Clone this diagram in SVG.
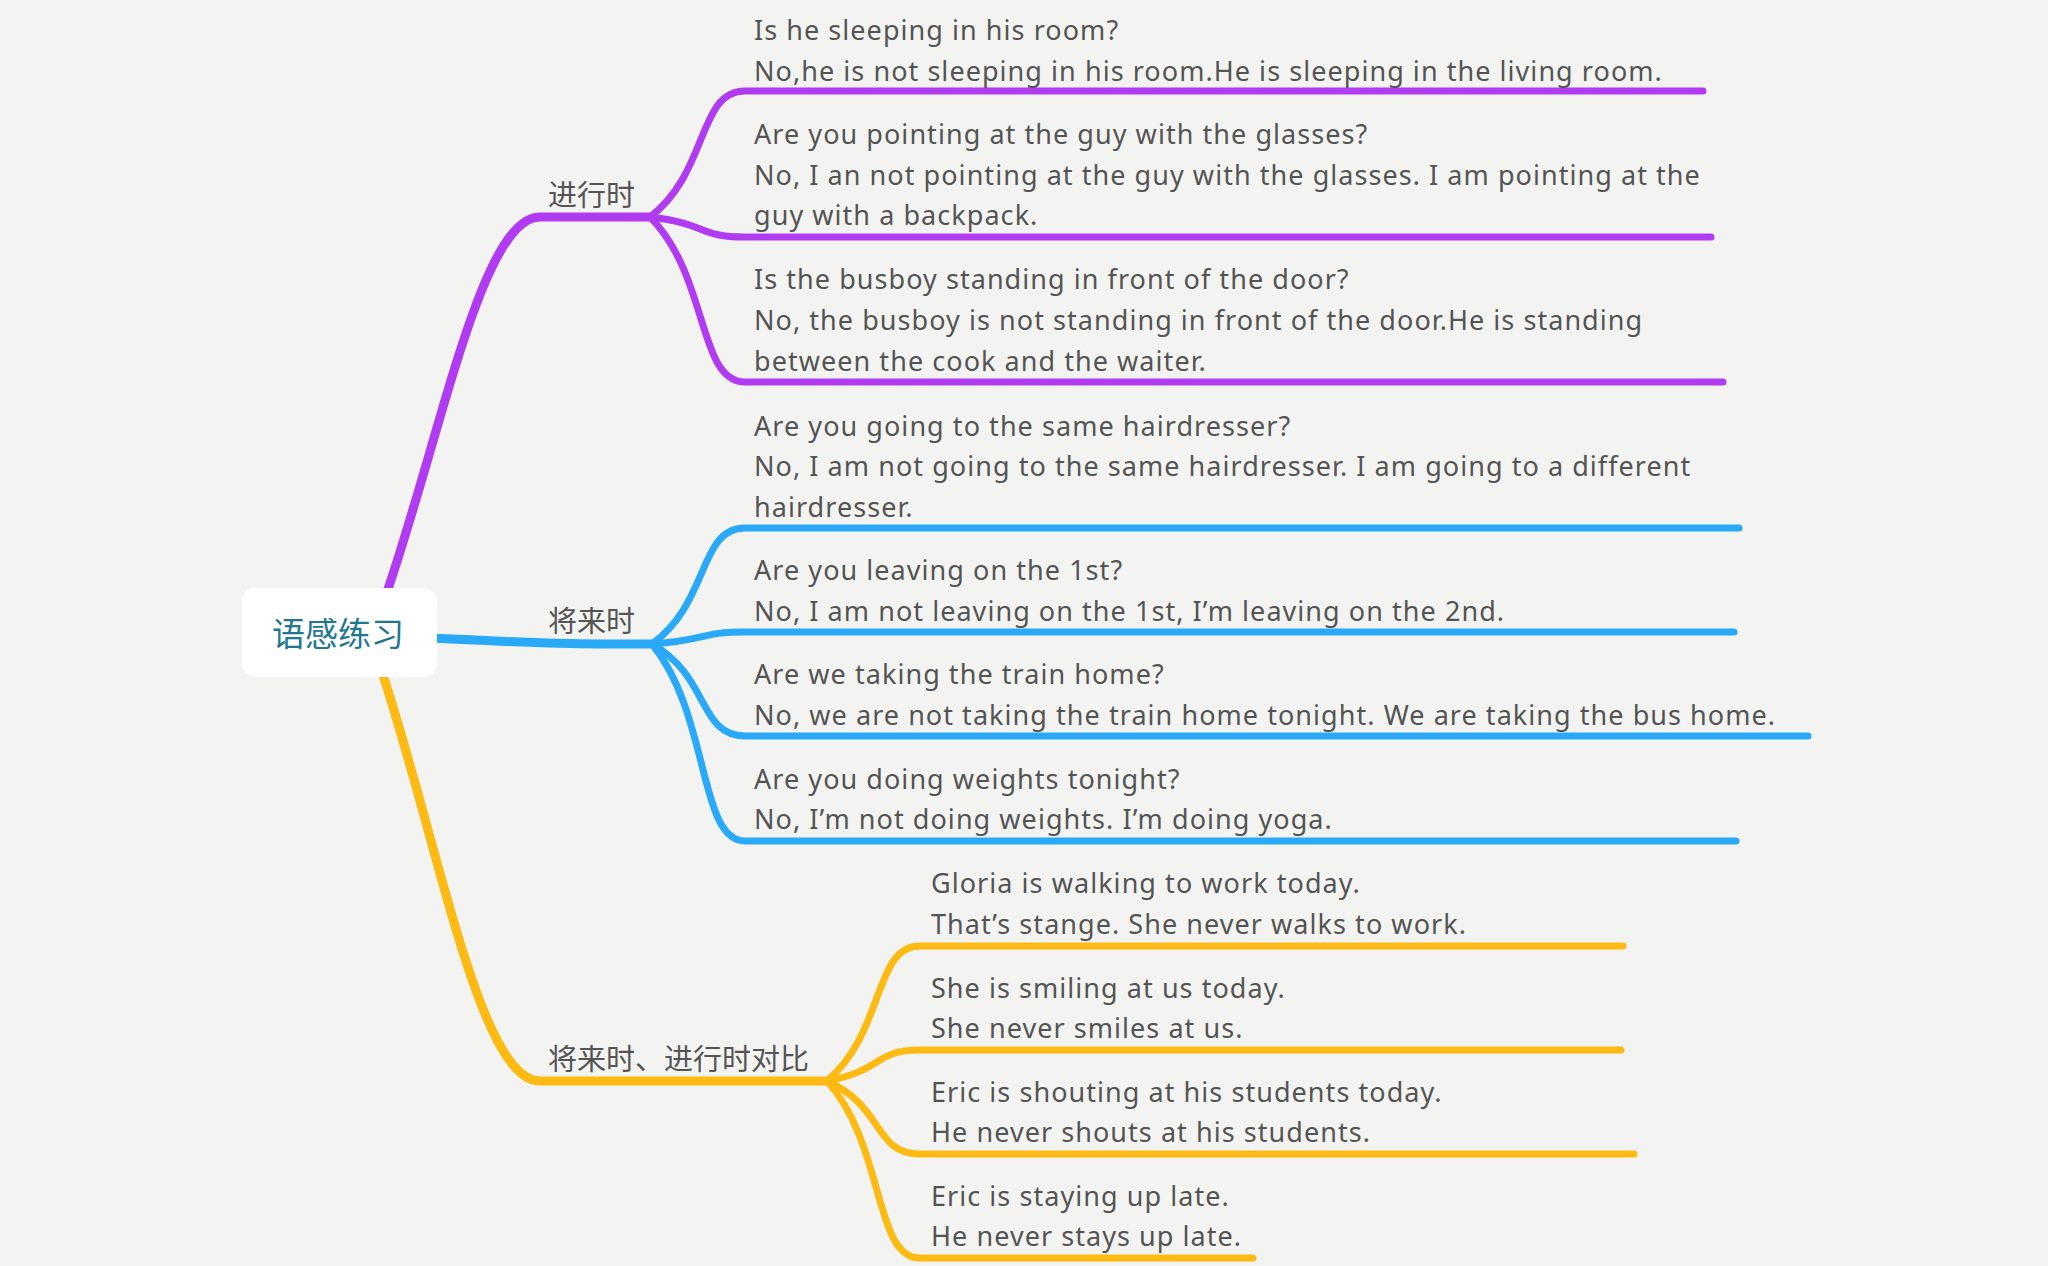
<svg xmlns="http://www.w3.org/2000/svg" width="2048" height="1266" viewBox="0 0 2048 1266">
<style>
.bg{fill:#F3F4F2}
.main{fill:none;stroke-width:9;stroke-linecap:round;stroke-linejoin:round}
.sub{fill:none;stroke-width:7;stroke-linecap:round;stroke-linejoin:round}
.pu{stroke:#B13BF0}
.bl{stroke:#2AA9F9}
.ye{stroke:#FDBA12}
.t{font-family:"Noto Sans","Liberation Sans",sans-serif;font-size:27px;letter-spacing:1.05px;fill:#545454}
.lab{font-family:"Noto Sans CJK SC","Noto Sans",sans-serif;font-size:29px;fill:#555555}
.root{font-family:"Noto Sans CJK SC","Noto Sans",sans-serif;font-size:33px;fill:#21778F}
</style>
<rect class="bg" x="0" y="0" width="2048" height="1266"/>
<g id="connectors">
  <path class="main pu" d="M387,592 C442,431 482,217 540,217 L650,217"/>
  <path class="main bl" d="M430,638 C500,641 540,644 600,644 L652,644"/>
  <path class="main ye" d="M383,675 C440,850 480,1081 540,1081 L827,1081"/>
  <path class="sub pu" d="M650,217 C709,172 697.5,91 745,91 L1703,91"/>
  <path class="sub pu" d="M650,217 C709,224 697.5,237 745,237 L1711,237"/>
  <path class="sub pu" d="M650,217 C709,276 697.5,382 745,382 L1723,382"/>
  <path class="sub bl" d="M652,644 C710,602 698.5,528 745,528 L1739,528"/>
  <path class="sub bl" d="M652,644 C710,640 698.5,632 745,632 L1734,632"/>
  <path class="sub bl" d="M652,644 C710,677 698.5,736 745,736 L1808,736"/>
  <path class="sub bl" d="M652,644 C710,715 698.5,841 745,841 L1736,841"/>
  <path class="sub ye" d="M827,1081 C885,1032 873.5,946 920,946 L1623,946"/>
  <path class="sub ye" d="M827,1081 C885,1070 873.5,1050 920,1050 L1621,1050"/>
  <path class="sub ye" d="M827,1081 C885,1107 873.5,1154 920,1154 L1634,1154"/>
  <path class="sub ye" d="M827,1081 C885,1145 873.5,1258 920,1258 L1253,1258"/>
</g>
<g id="root">
  <rect x="242" y="588" width="195" height="89" rx="14" ry="14" fill="#FFFFFF"/>
  <text class="root" x="338" y="646" text-anchor="middle">语感练习</text>
</g>
<g id="branch-progressive">
  <text class="lab" x="548" y="206">进行时</text>
</g>
<g id="branch-future">
  <text class="lab" x="548" y="632">将来时</text>
</g>
<g id="branch-compare">
  <text class="lab" x="548" y="1070">将来时、进行时对比</text>
</g>
<g id="p1"><text class="t" x="754" y="40">Is he sleeping in his room?</text><text class="t" x="754" y="80.5">No,he is not sleeping in his room.He is sleeping in the living room.</text></g>
<g id="p2"><text class="t" x="754" y="144">Are you pointing at the guy with the glasses?</text><text class="t" x="754" y="184.5">No, I an not pointing at the guy with the glasses. I am pointing at the</text><text class="t" x="754" y="225">guy with a backpack.</text></g>
<g id="p3"><text class="t" x="754" y="289">Is the busboy standing in front of the door?</text><text class="t" x="754" y="330">No, the busboy is not standing in front of the door.He is standing</text><text class="t" x="754" y="370.5">between the cook and the waiter.</text></g>
<g id="b1"><text class="t" x="754" y="435.5">Are you going to the same hairdresser?</text><text class="t" x="754" y="476">No, I am not going to the same hairdresser. I am going to a different</text><text class="t" x="754" y="516.5">hairdresser.</text></g>
<g id="b2"><text class="t" x="754" y="580">Are you leaving on the 1st?</text><text class="t" x="754" y="620.5">No, I am not leaving on the 1st, I’m leaving on the 2nd.</text></g>
<g id="b3"><text class="t" x="754" y="684">Are we taking the train home?</text><text class="t" x="754" y="724.5">No, we are not taking the train home tonight. We are taking the bus home.</text></g>
<g id="b4"><text class="t" x="754" y="788.5">Are you doing weights tonight?</text><text class="t" x="754" y="829">No, I’m not doing weights. I’m doing yoga.</text></g>
<g id="y1"><text class="t" x="931" y="893">Gloria is walking to work today.</text><text class="t" x="931" y="934">That’s stange. She never walks to work.</text></g>
<g id="y2"><text class="t" x="931" y="997.5">She is smiling at us today.</text><text class="t" x="931" y="1038">She never smiles at us.</text></g>
<g id="y3"><text class="t" x="931" y="1101.5">Eric is shouting at his students today.</text><text class="t" x="931" y="1142">He never shouts at his students.</text></g>
<g id="y4"><text class="t" x="931" y="1205.5">Eric is staying up late.</text><text class="t" x="931" y="1246">He never stays up late.</text></g>
</svg>
